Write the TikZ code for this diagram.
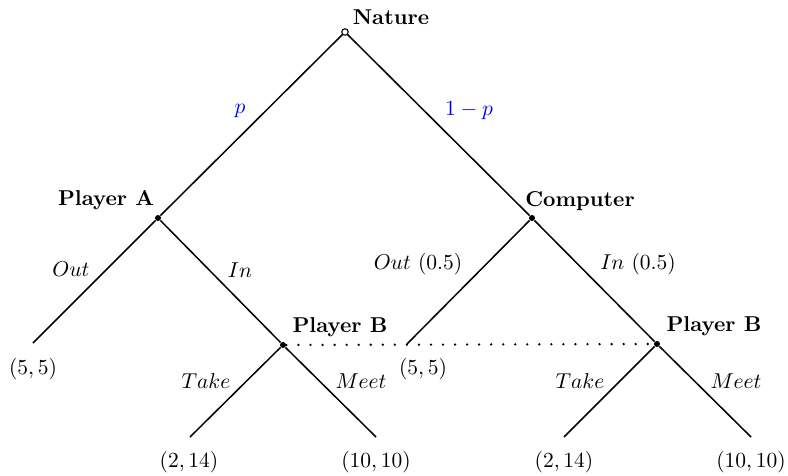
\documentclass[tikz,border=0pt]{standalone}
\begin{document}
\begin{tikzpicture}[x=0.465pt,y=-0.465pt,
  branch/.style={line width=0.7pt},
  decision/.style={circle,fill=black,inner sep=0pt,minimum size=2.8pt},
  chance/.style={circle,draw=black,fill=white,line width=0.5pt,inner sep=0pt,minimum size=3pt},
  player/.style={font=\bfseries,inner sep=0pt},
  move/.style={inner sep=0pt},
  payoff/.style={inner sep=0pt},
  prob/.style={inner sep=0pt,text=blue},
  infoset/.style={line width=1.2pt,line cap=round,dash pattern=on 0pt off 5.6pt}]
\useasboundingbox (0,0) rectangle (788,476);

% decision points
\node[chance]   (nature) at (345,32)  {};
\node[decision] (pa)     at (158,218) {};
\node[decision] (comp)   at (532,218) {};
\node[decision] (pbl)    at (283,345) {};
\node[decision] (pbr)    at (657,344) {};

% terminal ends
\coordinate (aout)  at (33,343);
\coordinate (cout)  at (407,344);
\coordinate (ltake) at (190,437);
\coordinate (lmeet) at (376,437);
\coordinate (rtake) at (564,437);
\coordinate (rmeet) at (751,437);

% branches
\draw[branch] (nature) -- (pa);
\draw[branch] (nature) -- (comp);
\draw[branch] (pa) -- (aout);
\draw[branch] (pa) -- (pbl);
\draw[branch] (comp) -- (cout);
\draw[branch] (comp) -- (pbr);
\draw[branch] (pbl) -- (ltake);
\draw[branch] (pbl) -- (lmeet);
\draw[branch] (pbr) -- (rtake);
\draw[branch] (pbr) -- (rmeet);

% information set of Player B
\draw[infoset] (pbl) -- (pbr);

% player labels
\node[player] (lnature) at (391,17)  {Nature};
\node[player] (lpa)     at (106,200) {Player A};
\node[player] (lcomp)   at (580,201) {Computer};
\node[player] (lpbl)    at (340,327) {Player B};
\node[player] (lpbr)    at (714,326) {Player B};

% probabilities of nature
\node[prob] (lp)  at (240,111) {$p$};
\node[prob] (lnp) at (469,111) {$1-p$};

% move labels
\node[move] (mout)  at (71,269)  {$Out$};
\node[move] (min)   at (240,270) {$In$};
\node[move] (mcout) at (418,264) {$Out$ $(0.5)$};
\node[move] (mcin)  at (638,264) {$In$ $(0.5)$};
\node[move] (mlt)   at (206,381) {$Take$};
\node[move] (mlm)   at (361,381) {$Meet$};
\node[move] (mrt)   at (580,381) {$Take$};
\node[move] (mrm)   at (736,381) {$Meet$};

% payoffs
\node[payoff] (pay1) at (33,369)  {$(5,5)$};
\node[payoff] (pay2) at (423,369) {$(5,5)$};
\node[payoff] (pay3) at (189,462) {$(2,14)$};
\node[payoff] (pay4) at (376,462) {$(10,10)$};
\node[payoff] (pay5) at (564,462) {$(2,14)$};
\node[payoff] (pay6) at (751,462) {$(10,10)$};
\end{tikzpicture}
\end{document}
